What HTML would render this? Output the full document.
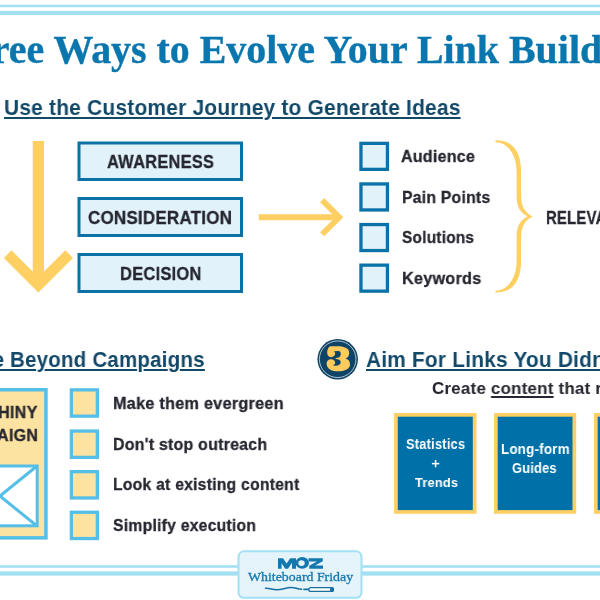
<!DOCTYPE html>
<html><head><meta charset="utf-8">
<style>
html,body{margin:0;padding:0;background:#fff;}
body{width:600px;height:600px;position:relative;overflow:hidden;font-family:"Liberation Sans",sans-serif;}
.a{position:absolute;box-sizing:border-box;}
.t{position:absolute;white-space:pre;transform-origin:0 0;will-change:transform;}
svg{position:absolute;left:0;top:0;overflow:visible;}
</style></head><body>
<svg width="600" height="600" viewBox="0 0 600 600">
 <rect x="0" y="4.7" width="600" height="2.5" fill="#a2e0f3"/>
 <rect x="0" y="10.9" width="600" height="4.2" fill="#a2e0f3"/>
 <rect x="0" y="565.2" width="600" height="2.6" fill="#a2e0f3"/>
 <rect x="0" y="571.4" width="600" height="4.2" fill="#a2e0f3"/>
 <g stroke="#0b72a8" stroke-width="3" fill="#e2f2fa">
  <rect x="79" y="143" width="162.5" height="36.5"/>
  <rect x="79" y="198.5" width="162.5" height="37"/>
  <rect x="79" y="254.5" width="162.5" height="37"/>
 </g>
 <g stroke="#0b72a8" stroke-width="3.3" fill="#e2f2fa">
  <rect x="360.95" y="143.35" width="26.5" height="26" />
  <rect x="360.95" y="183.95" width="26.5" height="26" />
  <rect x="360.95" y="224.55" width="26.5" height="26" />
  <rect x="360.95" y="265.15" width="26.5" height="26" />
 </g>
 <rect x="-50" y="389.75" width="95.95" height="148.1" stroke="#55bfe8" stroke-width="3.5" fill="#fde3a1"/>
 <rect x="-37.2" y="466" width="74.4" height="59.8" stroke="#55bfe8" stroke-width="3" fill="#fff"/>
 <g stroke="#55bfe8" stroke-width="3.3" fill="#fde3a1">
  <rect x="71.35" y="389.85" width="26" height="26.3" />
  <rect x="71.35" y="431.05" width="26" height="26.3" />
  <rect x="71.35" y="471.65" width="26" height="26.3" />
  <rect x="71.35" y="512.25" width="26" height="26.3" />
 </g>
 <g stroke="#fecf62" stroke-width="3.7" fill="#0071a8">
  <rect x="395.95" y="414.85" width="78.7" height="97.1" />
  <rect x="495.85" y="414.85" width="78.5" height="97.1" />
  <rect x="595.85" y="414.85" width="78.5" height="97.1" />
 </g>
 <rect x="431.9" y="462.9" width="7.4" height="1.5" fill="#fff"/>
 <rect x="434.85" y="460" width="1.5" height="7.3" fill="#fff"/>
 <rect x="238.5" y="551.3" width="123" height="46.5" rx="5.5" stroke="#a2e0f3" stroke-width="2" fill="#e5f4fa"/>
</svg>
<svg width="600" height="600" viewBox="0 0 600 600">
 <g fill="none" stroke="#fecf62" stroke-linejoin="miter" stroke-linecap="butt">
  <path d="M38.4,141 V284" stroke-width="11.3"/>
  <path d="M7.65,254.15 L38.4,284.9 L69.15,254.15" stroke-width="10.8"/>
  <path d="M258.8,217.2 H339" stroke-width="6"/>
  <path d="M322.15,200.1 L339.26,217.2 L322.15,234.3" stroke-width="5.8"/>
  <path d="M495.5,140.3 C513,140 521.1,152 521.1,172 L521.1,196 C521.1,206 525,213 532.75,216.4 L527.5,216.4 C521,213 516.6,208 516.6,196 L516.6,172 C516.6,156 509,142.5 495.5,142.2 Z M 495.5,292.50 C 513,292.80 521.1,280.80 521.1,260.80 L 521.1,236.80 C 521.1,226.80 525,219.80 532.75,216.40 L 527.5,216.40 C 521,219.80 516.6,224.80 516.6,236.80 L 516.6,260.80 C 516.6,276.80 509,290.30 495.5,290.60 Z" fill="#fecf62" stroke="none"/>
 </g>
 <g stroke="#55bfe8" stroke-width="3" fill="none">
  <path d="M37,466 L-37,526 M37,526 L-37,466"/>
 </g>
 <circle cx="337.7" cy="359.25" r="20.25" fill="#0f4467"/>
 <circle cx="337.7" cy="359.25" r="18.3" fill="none" stroke="#fff" stroke-width="0.8" opacity="0.85"/>

 <g transform="translate(322,342) scale(0.05666)" fill="#fecb5c">
  <path d="M150,75 C120,80 90,130 92,195 C92,240 120,268 160,268 C205,268 232,240 232,205 C232,185 220,170 205,165 L300,160 C325,165 335,195 330,225 C325,262 290,280 240,285 L240,300 C300,305 335,325 330,360 C325,395 295,415 245,418 L185,415 C215,405 232,385 232,365 C232,330 200,305 160,305 C115,305 80,340 82,385 C85,470 160,518 270,518 C410,518 495,465 495,395 C495,335 455,300 415,292 C455,280 482,240 480,185 C478,115 400,75 280,75 Z"/>
 </g>
 <g fill="#1477ae">
  <g transform="translate(276,556) scale(0.04)">
   <path d="M50,55 L175,55 L265,185 L355,55 L500,55 L500,320 L400,320 L400,170 L300,320 L230,320 L140,180 L140,320 L50,320 Z"/>
  </g>
  <path fill-rule="evenodd" d="M295.5,562.9 a6.75,5.9 0 1,0 13.5,0 a6.75,5.9 0 1,0 -13.5,0 Z M298.25,563.1 a3.25,2.9 0 1,0 6.5,0 a3.25,2.9 0 1,0 -6.5,0 Z"/>
  <g transform="translate(294,556) scale(0.05)">
   <path d="M290,45 L575,45 L575,105 L420,190 L580,190 L580,255 L305,255 L305,195 L460,110 L290,110 Z"/>
  </g>
 </g>
 <path d="M265.5,588.3 C270,588 272,589.8 277,589.7 C282,589.6 286,587.6 291,587.6 C296,587.6 298,589.3 301.6,589.2" fill="none" stroke="#1a6fa3" stroke-width="1.5" stroke-linecap="round"/>
 <path d="M304,589.4 L309,589.4" stroke="#1a6fa3" stroke-width="1.6" stroke-linecap="round"/>
 <rect x="308.8" y="587.6" width="24.6" height="3.8" rx="1.9" fill="#fff" stroke="#1a6fa3" stroke-width="1.3"/>
 <rect x="330" y="587.3" width="4" height="4.4" rx="1.5" fill="#1a6fa3"/>
</svg>
<div class="t" style="left:-56.60px;top:31.00px;font-family:'Liberation Serif';font-weight:700;font-size:39.50px;line-height:39.50px;letter-spacing:0px;color:#0a76ae;transform:scaleX(1.0100);-webkit-text-stroke:0.40px #0a76ae;">Three Ways to Evolve Your Link Building</div>
<div class="t" style="left:3.88px;top:95.50px;font-family:'Liberation Sans';font-weight:700;font-size:22.78px;line-height:22.78px;letter-spacing:0.25px;color:#124868;transform:scaleX(0.9177);text-decoration:underline;text-decoration-thickness:1.60px;text-underline-offset:1.70px;">Use the Customer Journey to Generate Ideas</div>
<div class="t" style="left:106.63px;top:153.00px;font-family:'Liberation Sans';font-weight:700;font-size:18.90px;line-height:18.90px;letter-spacing:0.25px;color:#25262f;transform:scaleX(0.8719);-webkit-text-stroke:0.30px #25262f;">AWARENESS</div>
<div class="t" style="left:88.10px;top:209.00px;font-family:'Liberation Sans';font-weight:700;font-size:18.90px;line-height:18.90px;letter-spacing:0.25px;color:#25262f;transform:scaleX(0.8987);-webkit-text-stroke:0.30px #25262f;">CONSIDERATION</div>
<div class="t" style="left:119.63px;top:264.50px;font-family:'Liberation Sans';font-weight:700;font-size:18.90px;line-height:18.90px;letter-spacing:0.25px;color:#25262f;transform:scaleX(0.8736);-webkit-text-stroke:0.30px #25262f;">DECISION</div>
<div class="t" style="left:401.06px;top:148.00px;font-family:'Liberation Sans';font-weight:700;font-size:16.98px;line-height:16.98px;letter-spacing:0.25px;color:#25262f;transform:scaleX(0.9442);-webkit-text-stroke:0.30px #25262f;">Audience</div>
<div class="t" style="left:401.67px;top:189.00px;font-family:'Liberation Sans';font-weight:700;font-size:16.98px;line-height:16.98px;letter-spacing:0.25px;color:#25262f;transform:scaleX(0.9290);-webkit-text-stroke:0.30px #25262f;">Pain Points</div>
<div class="t" style="left:401.69px;top:229.00px;font-family:'Liberation Sans';font-weight:700;font-size:16.98px;line-height:16.98px;letter-spacing:0.25px;color:#25262f;transform:scaleX(0.9077);-webkit-text-stroke:0.30px #25262f;">Solutions</div>
<div class="t" style="left:401.64px;top:270.00px;font-family:'Liberation Sans';font-weight:700;font-size:16.98px;line-height:16.98px;letter-spacing:0.25px;color:#25262f;transform:scaleX(0.9556);-webkit-text-stroke:0.30px #25262f;">Keywords</div>
<div class="t" style="left:546.18px;top:209.00px;font-family:'Liberation Sans';font-weight:700;font-size:18.17px;line-height:18.17px;letter-spacing:0.25px;color:#25262f;transform:scaleX(0.8197);-webkit-text-stroke:0.30px #25262f;">RELEVANCE</div>
<div class="t" style="left:-49.19px;top:348.70px;font-family:'Liberation Sans';font-weight:700;font-size:22.09px;line-height:22.09px;letter-spacing:0.25px;color:#124868;transform:scaleX(0.9260);text-decoration:underline;text-decoration-thickness:1.60px;text-underline-offset:1.70px;">Move Beyond Campaigns</div>
<div class="t" style="left:112.56px;top:395.00px;font-family:'Liberation Sans';font-weight:700;font-size:17.26px;line-height:17.26px;letter-spacing:0.25px;color:#25262f;transform:scaleX(0.9425);-webkit-text-stroke:0.30px #25262f;">Make them evergreen</div>
<div class="t" style="left:112.58px;top:436.20px;font-family:'Liberation Sans';font-weight:700;font-size:17.26px;line-height:17.26px;letter-spacing:0.25px;color:#25262f;transform:scaleX(0.9242);-webkit-text-stroke:0.30px #25262f;">Don&#x27;t stop outreach</div>
<div class="t" style="left:112.59px;top:476.20px;font-family:'Liberation Sans';font-weight:700;font-size:17.26px;line-height:17.26px;letter-spacing:0.25px;color:#25262f;transform:scaleX(0.9123);-webkit-text-stroke:0.30px #25262f;">Look at existing content</div>
<div class="t" style="left:112.59px;top:516.80px;font-family:'Liberation Sans';font-weight:700;font-size:17.26px;line-height:17.26px;letter-spacing:0.25px;color:#25262f;transform:scaleX(0.9129);-webkit-text-stroke:0.30px #25262f;">Simplify execution</div>
<div class="t" style="left:-13.14px;top:404.40px;font-family:'Liberation Sans';font-weight:700;font-size:16.42px;line-height:16.42px;letter-spacing:0.25px;color:#25262f;transform:scaleX(0.9852);-webkit-text-stroke:0.30px #25262f;">SHINY</div>
<div class="t" style="left:-49.59px;top:426.50px;font-family:'Liberation Sans';font-weight:700;font-size:16.42px;line-height:16.42px;letter-spacing:0.25px;color:#25262f;transform:scaleX(0.9786);-webkit-text-stroke:0.30px #25262f;">CAMPAIGN</div>
<div class="t" style="left:366.06px;top:349.00px;font-family:'Liberation Sans';font-weight:700;font-size:22.09px;line-height:22.09px;letter-spacing:0.25px;color:#124868;transform:scaleX(0.9422);text-decoration:underline;text-decoration-thickness:1.60px;text-underline-offset:1.70px;">Aim For Links You Didn&#x27;t Build</div>
<div class="t" style="left:431.71px;top:380.00px;font-family:'Liberation Sans';font-weight:700;font-size:16.98px;line-height:16.98px;letter-spacing:0.25px;color:#25262f;transform:scaleX(0.9942);-webkit-text-stroke:0.05px #25262f;">Create <span style="text-decoration:underline;text-decoration-thickness:1.6px;text-underline-offset:2.4px">content</span> that re</div>
<div class="t" style="left:405.77px;top:437.70px;font-family:'Liberation Sans';font-weight:700;font-size:13.81px;line-height:13.81px;letter-spacing:0.25px;color:#fff;transform:scaleX(0.9274);">Statistics</div>
<div class="t" style="left:414.50px;top:476.00px;font-family:'Liberation Sans';font-weight:700;font-size:13.53px;line-height:13.53px;letter-spacing:0.25px;color:#fff;transform:scaleX(0.9444);">Trends</div>
<div class="t" style="left:501.03px;top:443.00px;font-family:'Liberation Sans';font-weight:700;font-size:13.81px;line-height:13.81px;letter-spacing:0.25px;color:#fff;transform:scaleX(0.9652);">Long-form</div>
<div class="t" style="left:512.47px;top:462.00px;font-family:'Liberation Sans';font-weight:700;font-size:13.81px;line-height:13.81px;letter-spacing:0.25px;color:#fff;transform:scaleX(0.9277);">Guides</div>
<div class="t" style="left:247.70px;top:570.30px;font-family:'Liberation Serif';font-weight:400;font-size:13.20px;line-height:13.20px;letter-spacing:0px;color:#1a7bb0;transform:scaleX(1.0510);-webkit-text-stroke:0.35px #1a7bb0;">Whiteboard Friday</div>
</body></html>
